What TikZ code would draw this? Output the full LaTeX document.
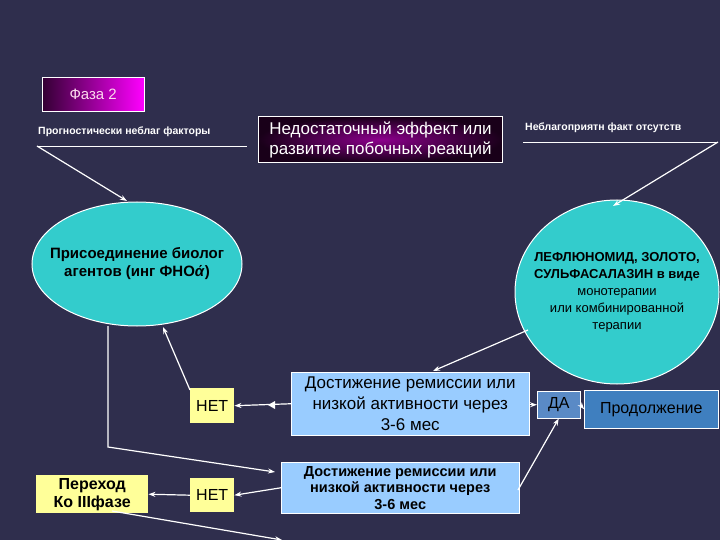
\documentclass[tikz,border=0pt]{standalone}
\usepackage{fontspec}
\setmainfont{Liberation Sans}
\usetikzlibrary{arrows.meta,shapes.geometric}
\definecolor{bg}{HTML}{2F2E4D}
\definecolor{cyanf}{HTML}{33CCCC}
\definecolor{lblue}{HTML}{99CCFF}
\definecolor{yel}{HTML}{FFFF99}
\definecolor{da}{HTML}{5A8AC6}
\definecolor{prod}{HTML}{3F7FBF}
\begin{document}
\begin{tikzpicture}[x=1pt,y=-1pt,
  wl/.style={draw=white,line width=1.2pt},
  arr/.style={wl,-{Stealth[length=7pt,width=5pt]}},
  ybox/.style={fill=yel,draw=none,font=\fontsize{16}{18}\selectfont,text=black},
  bbox/.style={fill=lblue,draw=white,line width=0.5pt,align=center,text=black},
  ellshape/.style={fill=cyanf,draw=white,line width=1pt},
  elltext/.style={align=center,inner sep=0,text=black}]
\fill[bg] (0,0) rectangle (720,540);
\useasboundingbox (0,0) rectangle (720,540);
% Phase box
\node[draw=white,minimum width=102,minimum height=34,anchor=north west,inner sep=0,
  left color=black!80!magenta,right color=magenta,text=white!85!magenta,font=\fontsize{15}{17}\selectfont] (phase) at (42,77) {Фаза 2};
% top labels
\node[text=white,font=\bfseries\fontsize{10.5}{12}\selectfont,anchor=west,inner sep=0] (prog) at (38,132) {Прогностически неблаг факторы};
\coordinate (pl) at (37,146); \coordinate (pr) at (247,146);
\draw[wl,line width=0.8pt] (pl) -- (pr);
\node[draw=white,line width=1pt,inner color=magenta!55!black,outer color=black!90!magenta,text=white,align=center,
  minimum width=244,minimum height=46,anchor=north west,inner sep=1,font=\fontsize{17}{20}\selectfont] (ned) at (258,116) {Недостаточный эффект или\\развитие побочных реакций};
\node[text=white,font=\bfseries\fontsize{10.5}{12}\selectfont,anchor=west,inner sep=0] (neb) at (525,128) {Неблагоприятн факт отсутств};
\coordinate (nl) at (523,142); \coordinate (nr) at (718,142);
\draw[wl,line width=0.8pt] (nl) -- (nr);
% ellipses
\draw[ellshape] (137,264) ellipse [x radius=105,y radius=62];
\node[elltext,font=\bfseries\fontsize{15}{18}\selectfont] (e1) at (137,264) {Присоединение биолог\\агентов (инг ФНО\textit{ά})};
\draw[ellshape] (617,292) ellipse [x radius=102,y radius=92];
\node[elltext,font=\bfseries\fontsize{13}{17}\selectfont] (e2) at (617,292) {ЛЕФЛЮНОМИД, ЗОЛОТО,\\СУЛЬФАСАЛАЗИН в виде\\{\mdseries монотерапии}\\{\mdseries или комбинированной}\\{\mdseries терапии}};
\draw[arr] (pl) -- (127,201);
\draw[arr] (nr) -- (613,206);
% boxes
\node[bbox,minimum width=238,minimum height=63,anchor=north west,inner sep=1,font=\fontsize{17}{21}\selectfont] (b1) at (291,372) {Достижение ремиссии или\\низкой активности через\\3-6 мес};
\node[bbox,minimum width=238,minimum height=51,anchor=north west,inner sep=1,font=\bfseries\fontsize{14.5}{16.5}\selectfont] (b2) at (281,462) {Достижение ремиссии или\\низкой активности через\\3-6 мес};
\node[ybox,minimum width=44,minimum height=35,anchor=north west,inner sep=0] (n1) at (190,388) {НЕТ};
\node[ybox,minimum width=44,minimum height=34,anchor=north west,inner sep=0] (n2) at (190,478) {НЕТ};
\node[ybox,minimum width=112,minimum height=38,anchor=north west,inner sep=0,align=center,font=\bfseries\fontsize{16}{18}\selectfont] (per) at (36,475) {Переход\\Ко IIIфазе};
\node[fill=da,draw=white,line width=0.5pt,minimum width=43,minimum height=27,anchor=north west,inner sep=0,font=\fontsize{16}{18}\selectfont,text=black] (da) at (537,391) {ДА};
\node[fill=prod,draw=white,line width=0.5pt,minimum width=134,minimum height=38,anchor=north west,inner sep=0,font=\fontsize{16}{18}\selectfont,text=black] (pro) at (584,390) {Продолжение};
% connectors
\coordinate (e2s) at (528,330);
\draw[arr] (e2s) -- (433,371);
\draw[arr] (b1.west) -- (n1.east);
\fill[white] (268,405) -- (275,401) -- (275,409) -- cycle;
\draw[arr] (n1.north west) ++(0,2) -- (163,327);
\draw[arr] (b1.east |- da.west) -- (da.west);
\draw[arr] (da.east) -- (pro.west);
\coordinate (c1) at (108,326); \coordinate (c2) at (108,447);
\draw[arr] (c1) -- (c2) -- (275,472);
\draw[arr] (b2.west) -- (n2.east);
\draw[arr] (n2.west) -- (per.east);
\draw[arr] (518,490) -- (da.south);
\coordinate (off) at (282,540);
\draw[arr] (112,511) -- (off);
\end{tikzpicture}
\end{document}
